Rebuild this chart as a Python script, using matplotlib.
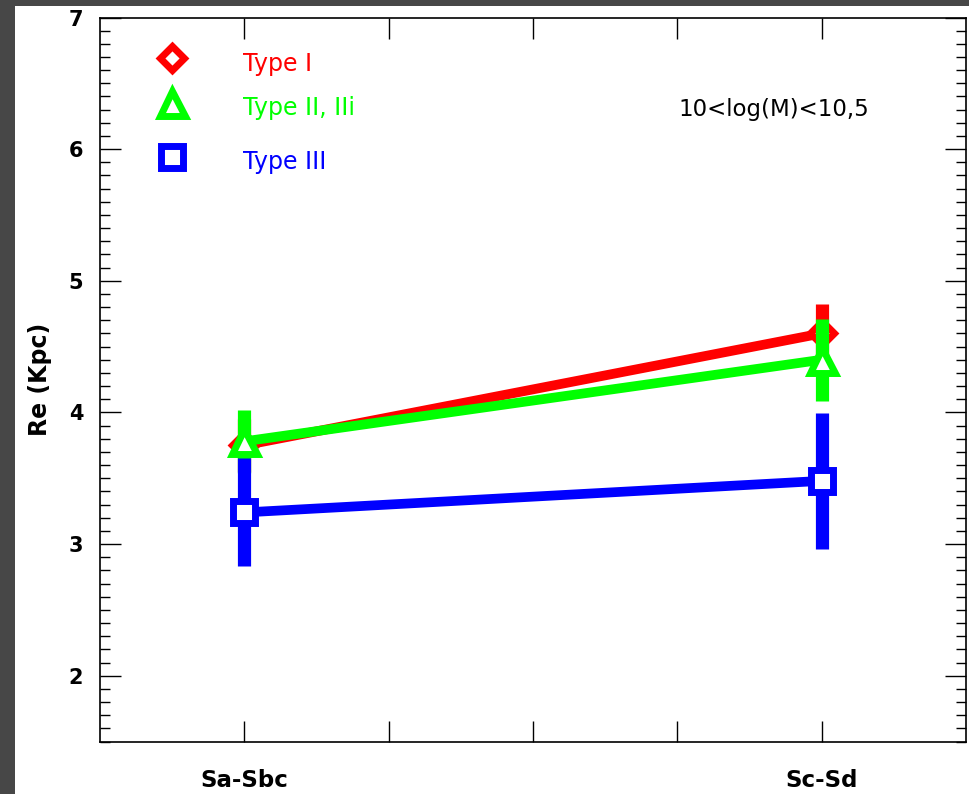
"""Re vs morphological type for three profile types, 10<log(M)<10.5."""
import matplotlib

matplotlib.use("Agg")
import matplotlib.pyplot as plt  # noqa: E402
from matplotlib.patches import Rectangle  # noqa: E402
from matplotlib.ticker import MultipleLocator  # noqa: E402

W, H, DPI = 969, 794, 100

# data
categories = ["Sa-Sbc", "Sc-Sd"]
cat_pos = [1, 5]
type1_re = [3.75, 4.60]
type1_err = [0.20, 0.22]
type2_re = [3.78, 4.40]
type2_err = [0.24, 0.31]
type3_re = [3.24, 3.48]
type3_err = [0.41, 0.515]

series = [
    ("Type I", type1_re, type1_err, "#ff0000", "D", 12),
    ("Type II, IIi", type2_re, type2_err, "#00ff00", "^", 18),
    ("Type III", type3_re, type3_err, "#0000ff", "s", 16),
]

fig = plt.figure(figsize=(W / DPI, H / DPI), dpi=DPI, facecolor="#474747")
fig.patches.append(Rectangle((15 / W, 0), 1 - 15 / W, 1 - 6 / H,
                             transform=fig.transFigure, facecolor="white",
                             edgecolor="none", zorder=-10))
ax = fig.add_axes([100 / W, 52.5 / H, 866 / W, 724 / H])

for i, (name, vals, errs, color, marker, ms) in enumerate(series):
    z = 3 + i
    ax.errorbar(cat_pos, vals, yerr=errs, fmt="none", ecolor=color,
                elinewidth=9.5, capsize=0, zorder=z)
    ax.plot(cat_pos, vals, color=color, lw=7, marker=marker, ms=ms,
            mfc="white", mec=color, mew=5, zorder=z)

# hand-placed legend like the original
leg_y = [6.69, 6.35, 5.94]
for (name, vals, errs, color, marker, ms), y in zip(series, leg_y):
    ax.plot([0.5], [y], marker=marker, ms=ms, mfc="white", mec=color,
            mew=5, ls="none", zorder=6)
    ax.text(0.99, y - 0.04, name, color=color, fontsize=17, va="center",
            ha="left", family="DejaVu Sans")

ax.text(4.67, 6.30, "10<log(M)<10,5", fontsize=16.5, ha="center", va="center")

ax.set_xlim(0, 6)
ax.set_ylim(1.5, 7)
ax.set_xticks([1, 2, 3, 4, 5])
ax.set_xticklabels([categories[0], "", "", "", categories[1]],
                   fontweight="bold")
ax.yaxis.set_major_locator(MultipleLocator(1))
ax.yaxis.set_minor_locator(MultipleLocator(0.1))
ax.tick_params(axis="both", which="major", direction="in", length=15,
               width=1, top=True, right=True)
ax.tick_params(axis="x", which="major", pad=20, labelsize=16.5)
ax.tick_params(axis="y", which="minor", direction="in", length=7,
               width=1, left=True, right=True)
ax.tick_params(axis="y", which="major", pad=12, labelsize=15)
for lbl in ax.get_yticklabels():
    lbl.set_fontweight("bold")
for s in ax.spines.values():
    s.set_linewidth(1.2)
ax.set_ylabel("Re (Kpc)", fontsize=17, fontweight="bold", labelpad=12)

fig.savefig("out.png", dpi=DPI, facecolor=fig.get_facecolor())
plt.close(fig)
